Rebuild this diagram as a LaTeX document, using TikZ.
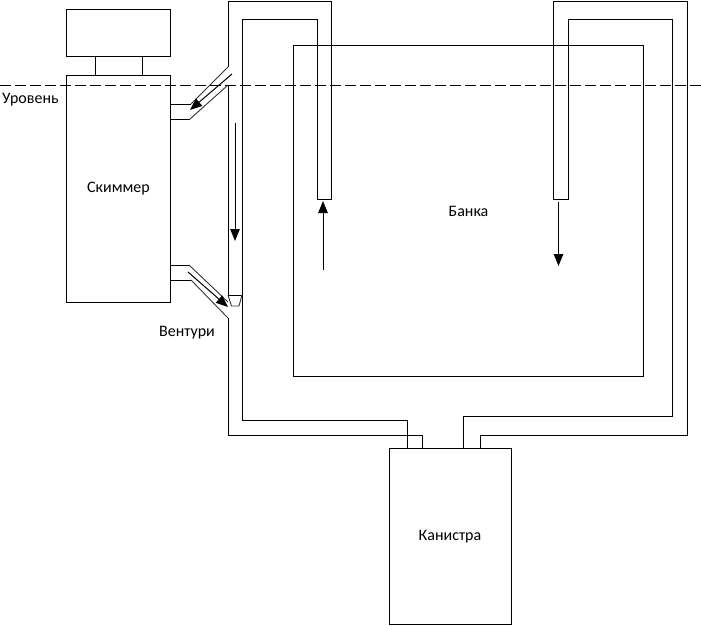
\documentclass[tikz,border=0pt]{standalone}
\usepackage{fontspec}
\setmainfont{Carlito}
\usetikzlibrary{arrows.meta}
\tikzset{
  box/.style={draw=black,line width=1pt,anchor=north west,inner sep=0pt,font=\fontsize{16}{18}\selectfont},
  pipe/.style={draw=black,line width=1pt,line join=miter},
  thinpipe/.style={draw=black!80,line width=0.9pt},
  flow/.style={draw=black,line width=1pt,-{Triangle[length=12pt,width=9.5pt]}},
  label/.style={font=\fontsize{16}{18}\selectfont,inner sep=0pt},
  level/.style={draw=black,line width=1pt,dash pattern=on 10.5pt off 4.5pt}
}
\begin{document}
\begin{tikzpicture}[x=1pt,y=-1pt]
\useasboundingbox (0,0) rectangle (701,625);
% main bodies
\node[box,minimum width=104pt,minimum height=47pt] (head) at (66,9) {};
\node[box,minimum width=104pt,minimum height=227pt] (skimmer) at (66,75) {Скиммер};
\node[box,minimum width=350pt,minimum height=331pt] (bank) at (293,45) {Банка};
\node[box,minimum width=122pt,minimum height=176pt] (canister) at (388.5,448) {\raisebox{-1.5pt}{Канистра}};
% head to skimmer
\draw[pipe] ([xshift=29.5pt]head.south west) -- ([xshift=29.5pt]skimmer.north west);
\draw[pipe] ([xshift=76pt]head.south west) -- ([xshift=76pt]skimmer.north west);
% labels
\node[label,anchor=west] (level) at (2,99.5) {Уровень};
\node[label] (venturi) at (187,333) {Вентури};
% level line
\coordinate (levelL) at (0,85);
\coordinate (levelR) at (701,85);
\draw[level] (levelL) -- (levelR);
% left pipe
\draw[pipe] (228,67) -- (228,1) -- (331,1) -- (331,199) -- (317,199) -- (317,19) -- (242,19) -- (242,420) -- (407.5,420) -- (407.5,448);
\draw[pipe] (228,85) -- (228,295);
\draw[pipe] (228,318) -- (228,435) -- (422.5,435) -- (422.5,448);
% right pipe
\draw[pipe] (553,199) -- (553,1) -- (687,1) -- (687,435) -- (480.5,435) -- (480.5,448);
\draw[pipe] (553,199) -- (568,199) -- (568,19) -- (672,19) -- (672,416) -- (463.5,416) -- (463.5,448);
% upper skimmer branch
\draw[pipe] (170,104) -- (191,104);
\draw[pipe] (170,119) -- (190,119);
\draw[thinpipe] (191,104) -- (228,67);
\draw[thinpipe] (190,119) -- (228,85);
% lower skimmer branch
\draw[pipe] (170,265) -- (189,265);
\draw[pipe] (170,280) -- (191,280);
\draw[thinpipe] (189,265) -- (228,302);
\draw[thinpipe] (191,280) -- (228,318);
% venturi nozzle
\draw[pipe] (228,295) -- (242,295);
\draw[thinpipe] (228,295) -- (231.5,306) -- (239,306) -- (242,295);
% flow arrows
\coordinate (a1s) at (232,74); \coordinate (a1e) at (190,110);
\coordinate (a2s) at (188,272); \coordinate (a2e) at (228,307);
\coordinate (a3s) at (235,123); \coordinate (a3e) at (235,241);
\coordinate (a4s) at (323,270); \coordinate (a4e) at (323,201);
\coordinate (a5s) at (558.5,202); \coordinate (a5e) at (558.5,266);
\draw[flow] (a1s) -- (a1e);
\draw[flow] (a2s) -- (a2e);
\draw[flow] (a3s) -- (a3e);
\draw[flow] (a4s) -- (a4e);
\draw[flow] (a5s) -- (a5e);
\end{tikzpicture}
\end{document}
